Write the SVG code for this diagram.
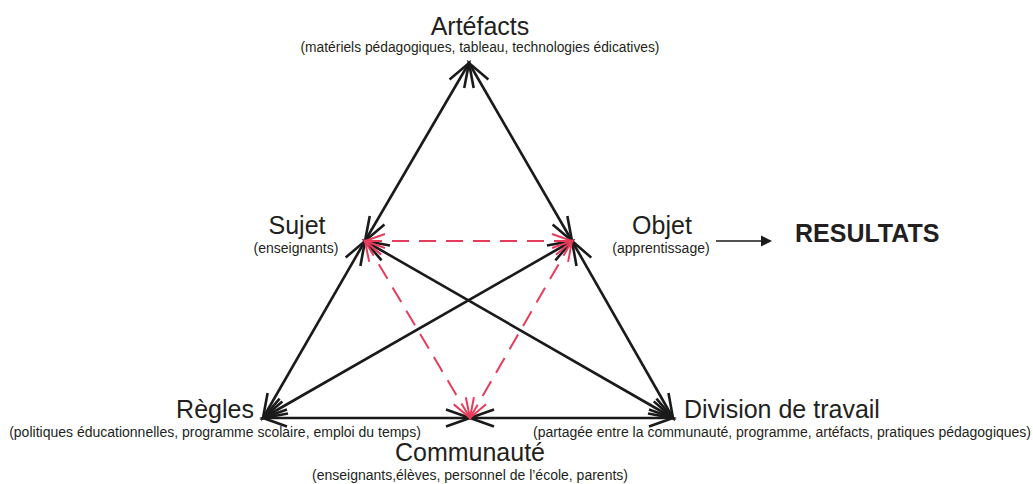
<svg xmlns="http://www.w3.org/2000/svg" width="1033" height="484" viewBox="0 0 1033 484">
<defs>
<style>
text{font-family:"Liberation Sans",Arial,sans-serif;fill:#231f20}
.t{font-size:25px}
.s{font-size:14px}
.c{text-anchor:middle}
.b{stroke:#1a1a1a;stroke-width:2.6;fill:none}
.r{stroke:#e63c5c;stroke-width:2;fill:none;stroke-dasharray:17 10}
</style>
<marker id="mb" markerUnits="userSpaceOnUse" viewBox="-28 -12 32 24" markerWidth="32" markerHeight="24" refX="0" refY="0" orient="auto-start-reverse">
<path d="M-24,-8.5 L0,0 L-24,8.5" fill="none" stroke="#1a1a1a" stroke-width="2.6"/>
</marker>
<marker id="mr" markerUnits="userSpaceOnUse" viewBox="-24 -10 28 20" markerWidth="28" markerHeight="20" refX="0" refY="0" orient="auto-start-reverse">
<path d="M-20,-7 L0,0 L-20,7" fill="none" stroke="#e63c5c" stroke-width="2"/>
</marker>
<marker id="mf" markerUnits="userSpaceOnUse" viewBox="0 -6 12 12" markerWidth="12" markerHeight="12" refX="0" refY="0" orient="auto">
<path d="M0,-5.5 L11,0 L0,5.5 Z" fill="#1a1a1a"/>
</marker>
</defs>

<g id="connectors">
<line class="b" x1="469" y1="63" x2="365" y2="241" marker-start="url(#mb)" marker-end="url(#mb)"/>
<line class="b" x1="469" y1="63" x2="572" y2="241" marker-start="url(#mb)" marker-end="url(#mb)"/>
<line class="b" x1="365" y1="241" x2="263" y2="418" marker-start="url(#mb)" marker-end="url(#mb)"/>
<line class="b" x1="572" y1="241" x2="673" y2="418" marker-start="url(#mb)" marker-end="url(#mb)"/>
<line class="b" x1="365" y1="241" x2="673" y2="418" marker-start="url(#mb)" marker-end="url(#mb)"/>
<line class="b" x1="572" y1="241" x2="263" y2="418" marker-start="url(#mb)" marker-end="url(#mb)"/>
<line class="b" x1="263" y1="418" x2="470" y2="418" marker-start="url(#mb)" marker-end="url(#mb)"/>
<line class="b" x1="470" y1="418" x2="673" y2="418" marker-start="url(#mb)" marker-end="url(#mb)"/>
<line class="r" x1="365" y1="241" x2="572" y2="241" marker-start="url(#mr)" marker-end="url(#mr)"/>
<line class="r" x1="365" y1="241" x2="470" y2="418" marker-start="url(#mr)" marker-end="url(#mr)"/>
<line class="r" x1="572" y1="241" x2="470" y2="418" marker-start="url(#mr)" marker-end="url(#mr)"/>
<line x1="716" y1="241" x2="761" y2="241" stroke="#1a1a1a" stroke-width="1.6" marker-end="url(#mf)"/>
</g>

<g id="artefacts">
<text class="t c" x="480" y="35">Artéfacts</text>
<text class="c" x="480" y="52" style="font-size:13.8px">(matériels pédagogiques, tableau, technologies édicatives)</text>
</g>
<g id="sujet">
<text class="t c" x="297" y="234">Sujet</text>
<text class="s c" x="296" y="253">(enseignants)</text>
</g>
<g id="objet">
<text class="t c" x="662" y="234">Objet</text>
<text class="s c" x="661" y="253">(apprentissage)</text>
</g>
<g id="resultats">
<text x="795" y="242" style="font-size:25px;font-weight:bold">RESULTATS</text>
</g>
<g id="regles">
<text class="t c" x="215" y="418">Règles</text>
<text class="s c" x="215" y="437">(politiques éducationnelles, programme scolaire, emploi du temps)</text>
</g>
<g id="division">
<text class="t" x="684" y="418">Division de travail</text>
<text class="s c" x="782" y="437">(partagée entre la communauté, programme, artéfacts, pratiques pédagogiques)</text>
</g>
<g id="communaute">
<text class="t c" x="470" y="461">Communauté</text>
<text class="s c" x="470" y="480">(enseignants,élèves, personnel de l’école, parents)</text>
</g>
</svg>
